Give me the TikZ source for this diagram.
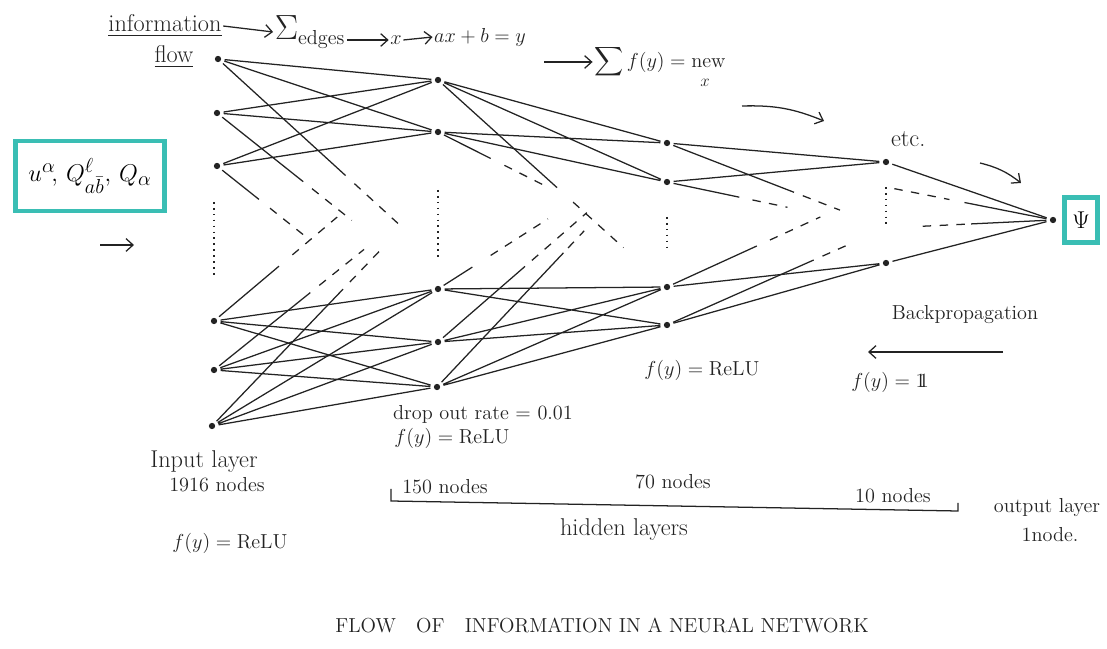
\documentclass[tikz,border=0pt]{standalone}
\usepackage{amsmath}
\usepackage{tikz}
\usetikzlibrary{arrows.meta,positioning,calc}
\usepackage{xcolor}
\definecolor{tealc}{RGB}{58,190,180}
\definecolor{inkc}{RGB}{35,35,35}

\begin{document}
\begin{tikzpicture}[
    % 1 unit = 1 pixel of the sketch
        x=0.025cm, y=-0.025cm,
    % network dots and links
        neuron/.style={circle, fill=inkc, inner sep=0pt, minimum size=4.5pt, outer sep=2.5pt},
        edge/.style={draw=inkc, line width=0.9pt},
        fade/.style={edge, dash pattern=on 6pt off 6pt},
        dotline/.style={draw=inkc, line width=1pt, dash pattern=on 1.2pt off 3pt},
    % teal boxes for input and output
        tealbox/.style={draw=tealc, line width=3.5pt, inner sep=4pt, font=\fontsize{19}{23}\selectfont},
        lbl/.style={font=\Large, inner sep=1pt, text=inkc},
        biglbl/.style={lbl, font=\LARGE},
        arrow/.style={-{Straight Barb[length=5pt,width=9pt]}, draw=inkc, line width=0.9pt}
    ]
    \useasboundingbox (0,0) rectangle (1107,649);

    % --- INPUT LAYER ---
    \node[neuron] (i1) at (218,59) {};
    \node[neuron] (i2) at (217,113) {};
    \node[neuron] (i3) at (217,166) {};
    \node[neuron] (i4) at (214,321) {};
    \node[neuron] (i5) at (214,370) {};
    \node[neuron] (i6) at (212,426) {};
    \coordinate (i-dtop) at (214,202);
    \coordinate (i-dbot) at (214,275);

    % --- HIDDEN LAYER 1 ---
    \node[neuron] (a1) at (438,80) {};
    \node[neuron] (a2) at (438,132) {};
    \node[neuron] (a3) at (438,289) {};
    \node[neuron] (a4) at (438,342) {};
    \node[neuron] (a5) at (437,387) {};
    \coordinate (a-dtop) at (438,190);
    \coordinate (a-dbot) at (438,260);

    % --- HIDDEN LAYER 2 ---
    \node[neuron] (b1) at (667,143) {};
    \node[neuron] (b2) at (667,182) {};
    \node[neuron] (b3) at (667,287) {};
    \node[neuron] (b4) at (667,325) {};
    \coordinate (b-dtop) at (667,217);
    \coordinate (b-dbot) at (667,247);

    % --- HIDDEN LAYER 3 ---
    \node[neuron] (c1) at (886,162) {};
    \node[neuron] (c2) at (886,263) {};
    \coordinate (c-dtop) at (886,187);
    \coordinate (c-dbot) at (886,228);

    % --- OUTPUT ---
    \node[neuron] (out) at (1053,220) {};
    \node[tealbox, minimum width=0.82cm, minimum height=1.12cm] (psi) at (1081,220) {$\Psi$};
    \node[tealbox, minimum width=3.72cm, minimum height=1.75cm] (inputs) at (90,176) {$u^{\alpha}\!,\, Q^{\ell}_{a\bar{b}},\, Q_{\alpha}$};

    % --- DOTTED COLUMNS ---
    \draw[dotline] (i-dtop) -- (i-dbot);
    \draw[dotline] (a-dtop) -- (a-dbot);
    \draw[dotline] (b-dtop) -- (b-dbot);
    \draw[dotline] (c-dtop) -- (c-dbot);

    % --- INPUT -> HIDDEN 1 ---
    \draw[edge] (i1) -- (a1) (i1) -- (a2) (i2) -- (a1) (i2) -- (a2) (i3) -- (a1) (i3) -- (a2);
    \draw[edge] (i4) -- (a3) (i4) -- (a4) (i4) -- (a5) (i5) -- (a3) (i5) -- (a4) (i5) -- (a5);
    \draw[edge] (i6) -- (a3) (i6) -- (a4) (i6) -- (a5);
    % links that fade out towards the middle
    \draw[edge] (i1) -- ($(i1)!0.58!(a-dbot)$);
    \draw[fade] ($(i1)!0.62!(a-dbot)$) -- ($(i1)!0.83!(a-dbot)$);
    \draw[edge] (i2) -- ($(i2)!0.39!(a3)$);
    \draw[fade] ($(i2)!0.43!(a3)$) -- ($(i2)!0.61!(a3)$);
    \draw[edge] (i3) -- ($(i3)!0.19!(a4)$);
    \draw[fade] ($(i3)!0.24!(a4)$) -- ($(i3)!0.42!(a4)$);
    \draw[edge] (i4) -- ($(i4)!0.29!(a2)$);
    \draw[fade] ($(i4)!0.35!(a2)$) -- ($(i4)!0.55!(a2)$);
    \draw[edge] (i5) -- ($(i5)!0.43!(a-dtop)$);
    \draw[fade] ($(i5)!0.47!(a-dtop)$) -- ($(i5)!0.67!(a-dtop)$);
    \draw[edge] (i6) -- ($(i6)!0.58!(a-dtop)$);
    \draw[fade] ($(i6)!0.61!(a-dtop)$) -- ($(i6)!0.74!(a-dtop)$);

    % --- HIDDEN 1 -> HIDDEN 2 ---
    \draw[edge] (a1) -- (b1) (a1) -- (b2) (a2) -- (b1) (a2) -- (b2);
    \draw[edge] (a3) -- (b3) (a3) -- (b4) (a4) -- (b3) (a4) -- (b4) (a5) -- (b3) (a5) -- (b4);
    \draw[edge] (a1) -- ($(a1)!0.52!(b3)$);
    \draw[fade] ($(a1)!0.59!(b3)$) -- ($(a1)!0.81!(b3)$);
    \draw[edge] (a2) -- ($(a2)!0.23!(b-dbot)$);
    \draw[fade] ($(a2)!0.29!(b-dbot)$) -- ($(a2)!0.48!(b-dbot)$);
    \draw[edge] (a3) -- ($(a3)!0.15!(b1)$);
    \draw[fade] ($(a3)!0.23!(b1)$) -- ($(a3)!0.48!(b1)$);
    \draw[edge] (a4) -- ($(a4)!0.38!(b1)$);
    \draw[fade] ($(a4)!0.41!(b1)$) -- ($(a4)!0.65!(b1)$);
    \draw[edge] (a5) -- ($(a5)!0.55!(b1)$);
    \draw[fade] ($(a5)!0.57!(b1)$) -- ($(a5)!0.64!(b1)$);

    % --- HIDDEN 2 -> HIDDEN 3 ---
    \draw[edge] (b1) -- (c1) (b2) -- (c1) (b3) -- (c2) (b4) -- (c2);
    \draw[edge] (b1) -- ($(b1)!0.58!(c-dbot)$);
    \draw[fade] ($(b1)!0.62!(c-dbot)$) -- ($(b1)!0.79!(c-dbot)$);
    \draw[edge] (b2) -- ($(b2)!0.33!(c-dbot)$);
    \draw[fade] ($(b2)!0.39!(c-dbot)$) -- ($(b2)!0.55!(c-dbot)$);
    \draw[edge] (b3) -- ($(b3)!0.41!(c-dtop)$);
    \draw[fade] ($(b3)!0.47!(c-dtop)$) -- ($(b3)!0.70!(c-dtop)$);
    \draw[edge] (b4) -- ($(b4)!0.67!(c-dbot)$);
    \draw[fade] ($(b4)!0.71!(c-dbot)$) -- ($(b4)!0.85!(c-dbot)$);

    % --- HIDDEN 3 -> OUTPUT ---
    \draw[edge] (c1) -- (out) (c2) -- (out);
    \draw[fade] ($(c-dtop)!0.05!(out)$) -- ($(c-dtop)!0.38!(out)$);
    \draw[edge] ($(c-dtop)!0.47!(out)$) -- (out);
    \draw[fade] ($(c-dbot)!0.22!(out)$) -- ($(c-dbot)!0.48!(out)$);
    \draw[edge] ($(c-dbot)!0.51!(out)$) -- (out);

    % --- TOP FORMULA LINE ---
    \node[biglbl] (info) at (165,26) {\underline{information}};
    \node[biglbl] (flow) at (174,57) {\underline{flow}};
    \node[lbl, font=\Huge] (sig) at (310,32) {$\Sigma_{\text{\Large edges}}$};
    \node[lbl] (xin) at (396,40) {$x$};
    \node[lbl] (lin) at (480,37) {$ax+b=y$};
    \node[lbl] (act) at (660,62) {$\displaystyle\sum f(y) = \mathrm{new}$};
    \node[lbl, font=\large] (newx) at (705,83) {$x$};
    \draw[arrow] (info.east) -- (sig.west);
    \draw[arrow] (sig.east |- xin.west) -- (xin.west);
    \draw[arrow] (xin.east) -- (lin.west);
    \draw[arrow] ([xshift=12pt]lin.east |- act.west) -- (act.west);

    % --- FLOW ARROWS ---
    \coordinate (fa1s) at (742,106);
    \coordinate (fa1e) at (824,121);
    \coordinate (fa2s) at (980,163);
    \coordinate (fa2e) at (1021,183);
    \coordinate (fa3s) at (100,245);
    \coordinate (fa3e) at (134,245);
    \coordinate (bps) at (1003,352);
    \coordinate (bpe) at (868,352);
    \draw[arrow] (fa1s) to[bend left=12] (fa1e);
    \draw[arrow] (fa2s) to[bend left=12] (fa2e);
    \draw[arrow] (fa3s) -- (fa3e);
    \draw[arrow] (bps) -- (bpe);

    % --- LABELS ---
    \node[biglbl, above right=6pt and -1pt of c1] (etc) {etc.};
    \node[lbl] (drop) at (483,414) {drop out rate = 0.01};
    \node[lbl] (relu1) at (452,438) {$f(y) = \mathrm{ReLU}$};
    \node[lbl] (relu2) at (702,370) {$f(y) = \mathrm{ReLU}$};
    \node[lbl] (backp) at (965,315) {Backpropagation};
    \node[lbl] (ident) at (890,382) {$f(y) = \mathrm{1\!\!1}$};
    \node[biglbl] (inlay) at (204,462) {Input layer};
    \node[lbl] (innod) at (217,485) {1916 nodes};
    \node[lbl] (inact) at (230,543) {$f(y) = \mathrm{ReLU}$};
    \node[lbl] (h1nod) at (445,487) {150 nodes};
    \node[lbl] (h2nod) at (673,482) {70 nodes};
    \node[lbl] (h3nod) at (893,496) {10 nodes};
    \node[biglbl] (hidd) at (624,530) {hidden layers};
    \node[lbl] (outlay) at (1047,508) {output layer};
    \node[lbl] (outnod) at (1050,535) {1node.};
    \node[lbl] (title) at (602,625) {FLOW\quad OF\quad INFORMATION IN A NEURAL NETWORK};

    % --- HIDDEN LAYERS BRACKET ---
    \coordinate (brl-top) at (391,489);
    \coordinate (brl) at (391,501);
    \coordinate (brr) at (958,511);
    \coordinate (brr-top) at (958,503);
    \draw[edge] (brl-top) -- (brl) -- (brr) -- (brr-top);
\end{tikzpicture}
\end{document}
